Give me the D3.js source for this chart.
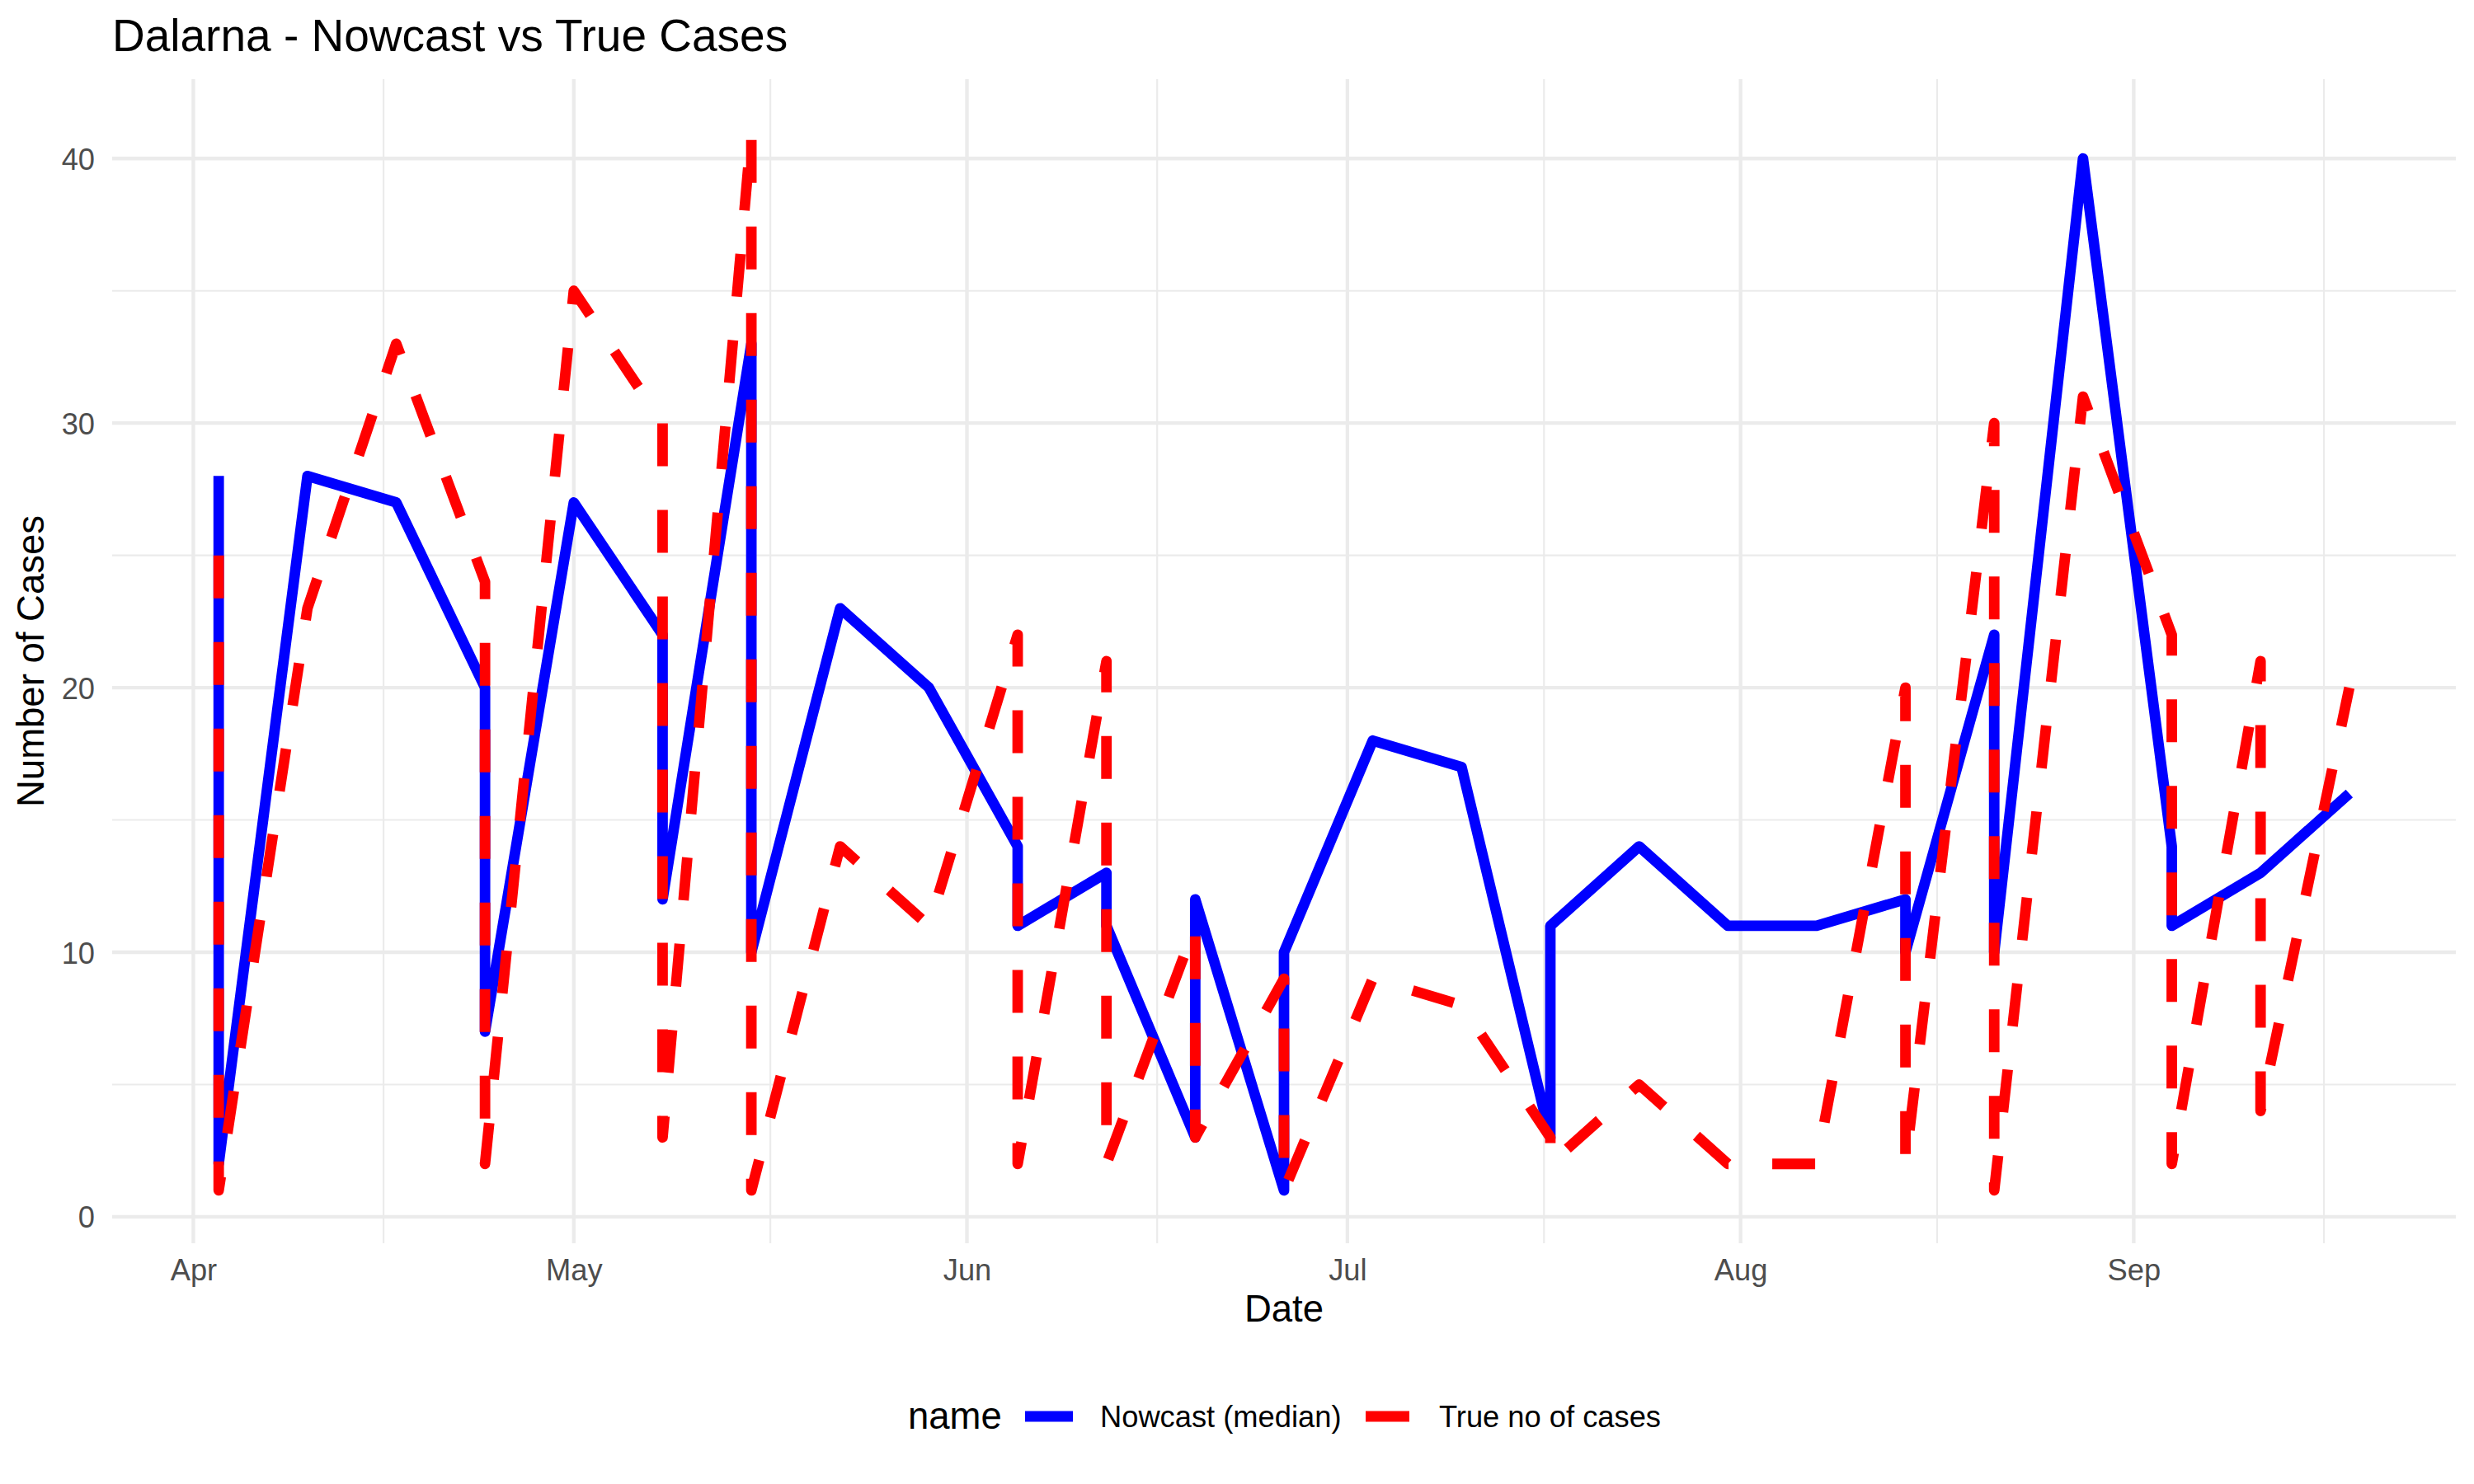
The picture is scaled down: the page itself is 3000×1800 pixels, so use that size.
<!DOCTYPE html>
<html>
<head>
<meta charset="utf-8">
<script src="https://cdn.jsdelivr.net/npm/d3@7"></script>
<style>
  html, body { margin: 0; padding: 0; background: #ffffff; }
  svg { display: block; font-family: "Liberation Sans", Arial, Helvetica, sans-serif; }
</style>
</head>
<body>
<svg id="chart" width="3000" height="1800"></svg>
<script>
// ---- data (rows in plotting order; some dates appear twice) ----
const dates = [
  "2020-04-03","2020-04-03","2020-04-10","2020-04-17","2020-04-24","2020-04-24",
  "2020-05-01","2020-05-08","2020-05-08","2020-05-15","2020-05-15","2020-05-22",
  "2020-05-29","2020-06-05","2020-06-05","2020-06-12","2020-06-12","2020-06-19",
  "2020-06-19","2020-06-26","2020-06-26","2020-07-03","2020-07-10","2020-07-17",
  "2020-07-17","2020-07-24","2020-07-31","2020-08-07","2020-08-14","2020-08-14",
  "2020-08-21","2020-08-21","2020-08-28","2020-09-04","2020-09-04","2020-09-11",
  "2020-09-11","2020-09-18"
];
const nowcastMedian = [
  28, 2, 28, 27, 20, 7,
  27, 22, 12, 33, 10, 23,
  20, 14, 11, 13, 11, 3,
  12, 1, 10, 18, 17, 3,
  11, 14, 11, 11, 12, 10,
  22, 10, 40, 14, 11, 13,
  13, 16
];
const trueCases = [
  25, 1, 23, 33, 24, 2,
  35, 30, 3, 41, 1, 14,
  11, 22, 2, 21, 2, 11,
  3, 9, 1, 9, 8, 3,
  2, 5, 2, 2, 20, 2,
  30, 1, 31, 22, 2, 21,
  4, 20
];
const seriesNames = ["Nowcast (median)", "True no of cases"];
const seriesColors = ["#0000FF", "#FF0000"];
const yTicks = [0, 10, 20, 30, 40];
const titleText = "Dalarna - Nowcast vs True Cases";
const xTitle = "Date";
const yTitle = "Number of Cases";
const legendTitle = "name";

// ---- layout ----
const svg = d3.select("#chart");
const panel = { left: 136, right: 2978, top: 96, bottom: 1508 };
const parse = d3.utcParse("%Y-%m-%d");
const dateObjs = dates.map(parse);

const dMin = d3.min(dateObjs), dMax = d3.max(dateObjs);
const span = dMax - dMin;
const x = d3.scaleUtc()
  .domain([new Date(+dMin - span * 0.05), new Date(+dMax + span * 0.05)])
  .range([panel.left, panel.right]);

const allVals = nowcastMedian.concat(trueCases);
const vMin = d3.min(allVals), vMax = d3.max(allVals);
const vSpan = vMax - vMin;
const y = d3.scaleLinear()
  .domain([vMin - vSpan * 0.05, vMax + vSpan * 0.05])
  .range([panel.bottom, panel.top]);

const gridColor = "#EBEBEB";
const grid = svg.append("g");

// minor y grid
const yMajor = yTicks;
const yMinor = [];
for (let i = 0; i < yMajor.length - 1; i++) yMinor.push((yMajor[i] + yMajor[i + 1]) / 2);
yMinor.forEach(v => {
  grid.append("line").attr("x1", panel.left).attr("x2", panel.right)
    .attr("y1", y(v)).attr("y2", y(v))
    .attr("stroke", gridColor).attr("stroke-width", 2.15);
});
// minor x grid: midpoints between month starts
const monthStarts = d3.utcMonth.range(d3.utcMonth.floor(x.domain()[0]), d3.utcMonth.offset(d3.utcMonth.ceil(x.domain()[1]), 1));
const xMinor = [];
for (let i = 0; i < monthStarts.length - 1; i++) {
  xMinor.push(new Date((+monthStarts[i] + +monthStarts[i + 1]) / 2));
}
const inDom = d => d >= x.domain()[0] && d <= x.domain()[1];
xMinor.filter(inDom).forEach(d => {
  grid.append("line").attr("y1", panel.top).attr("y2", panel.bottom)
    .attr("x1", x(d)).attr("x2", x(d))
    .attr("stroke", gridColor).attr("stroke-width", 2.15);
});
// major grid
yMajor.forEach(v => {
  grid.append("line").attr("x1", panel.left).attr("x2", panel.right)
    .attr("y1", y(v)).attr("y2", y(v))
    .attr("stroke", gridColor).attr("stroke-width", 4.3);
});
const xMajor = monthStarts.filter(inDom);
xMajor.forEach(d => {
  grid.append("line").attr("y1", panel.top).attr("y2", panel.bottom)
    .attr("x1", x(d)).attr("x2", x(d))
    .attr("stroke", gridColor).attr("stroke-width", 4.3);
});

// axes labels (no axis lines / ticks, like theme_minimal)
const tickSize = 36.3;
const fmt = d3.utcFormat("%b");
const xAxis = d3.axisBottom(x).tickValues(xMajor).tickFormat(fmt).tickSize(0).tickPadding(0);
const gx = svg.append("g").attr("transform", `translate(0,${panel.bottom})`).call(xAxis);
gx.select(".domain").remove();
gx.selectAll("text")
  .attr("y", 45).attr("dy", 0)
  .attr("font-size", tickSize).attr("fill", "#4D4D4D")
  .attr("font-family", '"Liberation Sans", Arial, sans-serif');

const yAxis = d3.axisLeft(y).tickValues(yTicks).tickFormat(d3.format("d")).tickSize(0).tickPadding(0);
const gy = svg.append("g").attr("transform", `translate(${panel.left - 21},0)`).call(yAxis);
gy.select(".domain").remove();
gy.selectAll("text")
  .attr("x", 0).attr("dy", "0.36em")
  .attr("font-size", tickSize).attr("fill", "#4D4D4D")
  .attr("font-family", '"Liberation Sans", Arial, sans-serif');

// lines
const rows = dateObjs.map((d, i) => ({ date: d, now: nowcastMedian[i], tru: trueCases[i] }));
const lineNow = d3.line().x(d => x(d.date)).y(d => y(d.now));
const lineTrue = d3.line().x(d => x(d.date)).y(d => y(d.tru));
const lw = 12.8;
svg.append("path").attr("d", lineNow(rows))
  .attr("fill", "none").attr("stroke", seriesColors[0]).attr("stroke-width", lw)
  .attr("stroke-linejoin", "round").attr("stroke-linecap", "butt");
svg.append("path").attr("d", lineTrue(rows))
  .attr("fill", "none").attr("stroke", seriesColors[1]).attr("stroke-width", lw)
  .attr("stroke-dasharray", "52,53")
  .attr("stroke-linejoin", "round").attr("stroke-linecap", "butt");

// titles
svg.append("text").attr("x", panel.left).attr("y", 62)
  .attr("font-size", 55).attr("fill", "#000").text(titleText);
svg.append("text").attr("x", (panel.left + panel.right) / 2).attr("y", 1603)
  .attr("text-anchor", "middle").attr("font-size", 45.5).attr("fill", "#000").text(xTitle);
svg.append("text")
  .attr("transform", `translate(53,${(panel.top + panel.bottom) / 2}) rotate(-90)`)
  .attr("text-anchor", "middle").attr("font-size", 45.5).attr("fill", "#000").text(yTitle);

// legend
const lg = svg.append("g");
const legY = 1718;
lg.append("text").attr("x", 1101).attr("y", 1733).attr("font-size", 45.5).attr("fill", "#000").text(legendTitle);
const keyX = [1236, 1649];
const textX = [1334, 1745];
seriesNames.forEach((name, i) => {
  const k = lg.append("line")
    .attr("x1", keyX[i] + 7).attr("x2", keyX[i] + 65)
    .attr("y1", legY).attr("y2", legY)
    .attr("stroke", seriesColors[i]).attr("stroke-width", lw)
    .attr("stroke-linecap", "butt");
  if (i === 1) k.attr("stroke-dasharray", "53,53");
  lg.append("text").attr("x", textX[i]).attr("y", 1731)
    .attr("font-size", tickSize).attr("fill", "#000").text(name);
});
</script>
</body>
</html>
